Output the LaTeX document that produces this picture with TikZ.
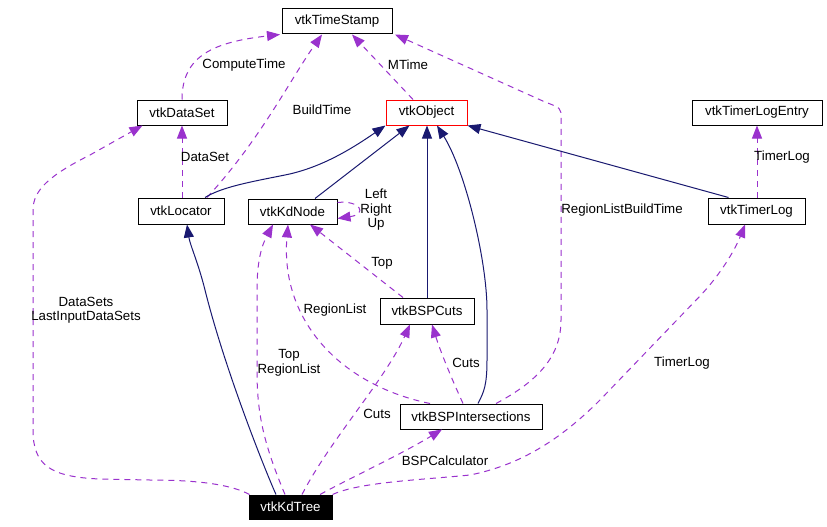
\documentclass[tikz,border=0pt]{standalone}
\usepackage{fontspec}
\setmainfont{Liberation Sans}
\usetikzlibrary{arrows.meta}
\definecolor{inh}{HTML}{191970}
\definecolor{usg}{HTML}{9A32CD}
\begin{document}
\begin{tikzpicture}[x=1pt,y=-1pt,
 box/.style={draw=black, line width=1pt, inner sep=0pt, font=\fontsize{13.3}{15}\selectfont, anchor=center},
 inhline/.style={draw=inh, line width=1pt, -{Triangle[length=13pt,width=10pt]}},
 useline/.style={draw=usg, line width=1pt, dash pattern=on 6pt off 5pt, -{Triangle[length=13pt,width=10pt]}},
 lbl/.style={font=\fontsize{13.3}{14.5}\selectfont, align=center, inner sep=0pt}]
\fill[white] (0,0) rectangle (827,527);
\useasboundingbox (0,0) rectangle (827,527);
% nodes
\node[box, minimum width=110pt, minimum height=25pt] (ts) at (337,21.5) {vtkTimeStamp};
\node[box, minimum width=90pt, minimum height=25pt] (ds) at (182,112.5) {vtkDataSet};
\node[box, draw=red, minimum width=81pt, minimum height=25pt] (obj) at (426.5,112.5) {vtkObject};
\node[box, minimum width=130pt, minimum height=25pt] (tle) at (757,112.5) {vtkTimerLogEntry};
\node[box, minimum width=86pt, minimum height=26pt] (loc) at (181,211) {vtkLocator};
\node[box, minimum width=89pt, minimum height=25pt] (kdn) at (292.5,211.5) {vtkKdNode};
\node[box, minimum width=97pt, minimum height=26pt] (tl) at (756.5,211) {vtkTimerLog};
\node[box, minimum width=94pt, minimum height=26pt] (cuts) at (427,311) {vtkBSPCuts};
\node[box, minimum width=142pt, minimum height=25pt] (bi) at (471,416.5) {vtkBSPIntersections};
\node[box, fill=black, text=white, minimum width=83pt, minimum height=24pt] (kdt) at (290.5,507) {vtkKdTree};
% usage relations
\draw[useline] (ds.north) .. controls (182,55) and (215,42) .. ([xshift=-57pt]ts.south);
\draw[useline] ([xshift=26pt]loc.north) .. controls (260,140) and (290,80) .. ([xshift=-15pt]ts.south);
\draw[useline] ([xshift=-13.5pt]obj.north) -- ([xshift=15pt]ts.south);
\draw[useline] ([xshift=25pt]bi.north) .. controls (540,380) and (561,355) .. (561,320) -- (561,118) .. controls (561,108) .. (545,102) -- ([xshift=58pt]ts.south);
\draw[useline] (ds.south |- loc.north) -- (ds.south);
\draw[useline] ([xshift=1pt]kdt.north west) .. controls (232,485) and (200,480) .. (150,480) -- (100,479) .. controls (50,477) and (33,465) .. (33,430) -- (33,210) .. controls (33,190) and (50,175) .. (90,155) -- ([xshift=6pt]ds.south west);
\draw[useline] ([yshift=9pt]kdn.east) .. controls (360,200) and (368,214) .. ([yshift=-7pt]kdn.east);
\draw[useline] ([xshift=-24pt]cuts.north) -- ([xshift=17.5pt]kdn.south);
\draw[useline] ([xshift=-41pt]bi.north) .. controls (340,385) and (280,320) .. ([xshift=-4.5pt]kdn.south);
\draw[useline] ([xshift=-5.5pt]kdt.north) .. controls (262,440) and (257,410) .. (257,370) -- (257,290) .. controls (257,260) and (262,245) .. ([xshift=-19.5pt]kdn.south);
\draw[useline] ([xshift=-8pt]bi.north) .. controls (450,375) and (440,350) .. ([xshift=5pt]cuts.south);
\draw[useline] ([xshift=11.5pt]kdt.north) .. controls (330,440) and (385,380) .. ([xshift=-17pt]cuts.south);
\draw[useline] ([xshift=29.5pt]kdt.north) .. controls (350,478) and (400,455) .. ([xshift=-29pt]bi.south);
\draw[useline] (kdt.north east) .. controls (360,482) and (420,480) .. (470,475) .. controls (520,465) and (560,440) .. (600,400) -- (700,296) .. controls (720,275) and (735,250) .. ([xshift=-11.5pt]tl.south);
\draw[useline] (tle.south |- tl.north) -- (tle.south);
% inheritance
\draw[inhline] ([xshift=24pt]loc.north) .. controls (222,187) and (250,182) .. (285,175) .. controls (320,168) and (350,150) .. (obj.south west);
\draw[inhline] ([xshift=22.5pt]kdn.north) -- ([xshift=-17pt]obj.south);
\draw[inhline] (cuts.north) -- (cuts.north |- obj.south);
\draw[inhline] ([xshift=7pt]bi.north) .. controls (484,392) and (487,385) .. (487,360) -- (487,310) .. controls (487,260) and (465,170) .. ([xshift=10.5pt]obj.south);
\draw[inhline] ([xshift=-28pt]tl.north) -- (obj.south east);
\draw[inhline] ([xshift=-14.5pt]kdt.north) .. controls (265,470) and (225,370) .. (205,290) .. controls (198,262) and (190,245) .. ([xshift=6pt]loc.south);
% labels
\node[lbl] (l1) at (244,65) {ComputeTime};
\node[lbl] (l2) at (322,110) {BuildTime};
\node[lbl] (l3) at (408,65) {MTime};
\node[lbl] (l4) at (205,157) {DataSet};
\node[lbl] (l5) at (376,210) {Left\\Right\\Up};
\node[lbl] (l6) at (382,263) {Top};
\node[lbl] (l7) at (335,310) {RegionList};
\node[lbl] (l8) at (622,210) {RegionListBuildTime};
\node[lbl] (l9) at (782,157) {TimerLog};
\node[lbl] (l10) at (86,310) {DataSets\\LastInputDataSets};
\node[lbl] (l11) at (289,363) {Top\\RegionList};
\node[lbl] (l12) at (377,414) {Cuts};
\node[lbl] (l13) at (466,363) {Cuts};
\node[lbl] (l14) at (445,461) {BSPCalculator};
\node[lbl] (l15) at (682,363) {TimerLog};
\end{tikzpicture}
\end{document}
